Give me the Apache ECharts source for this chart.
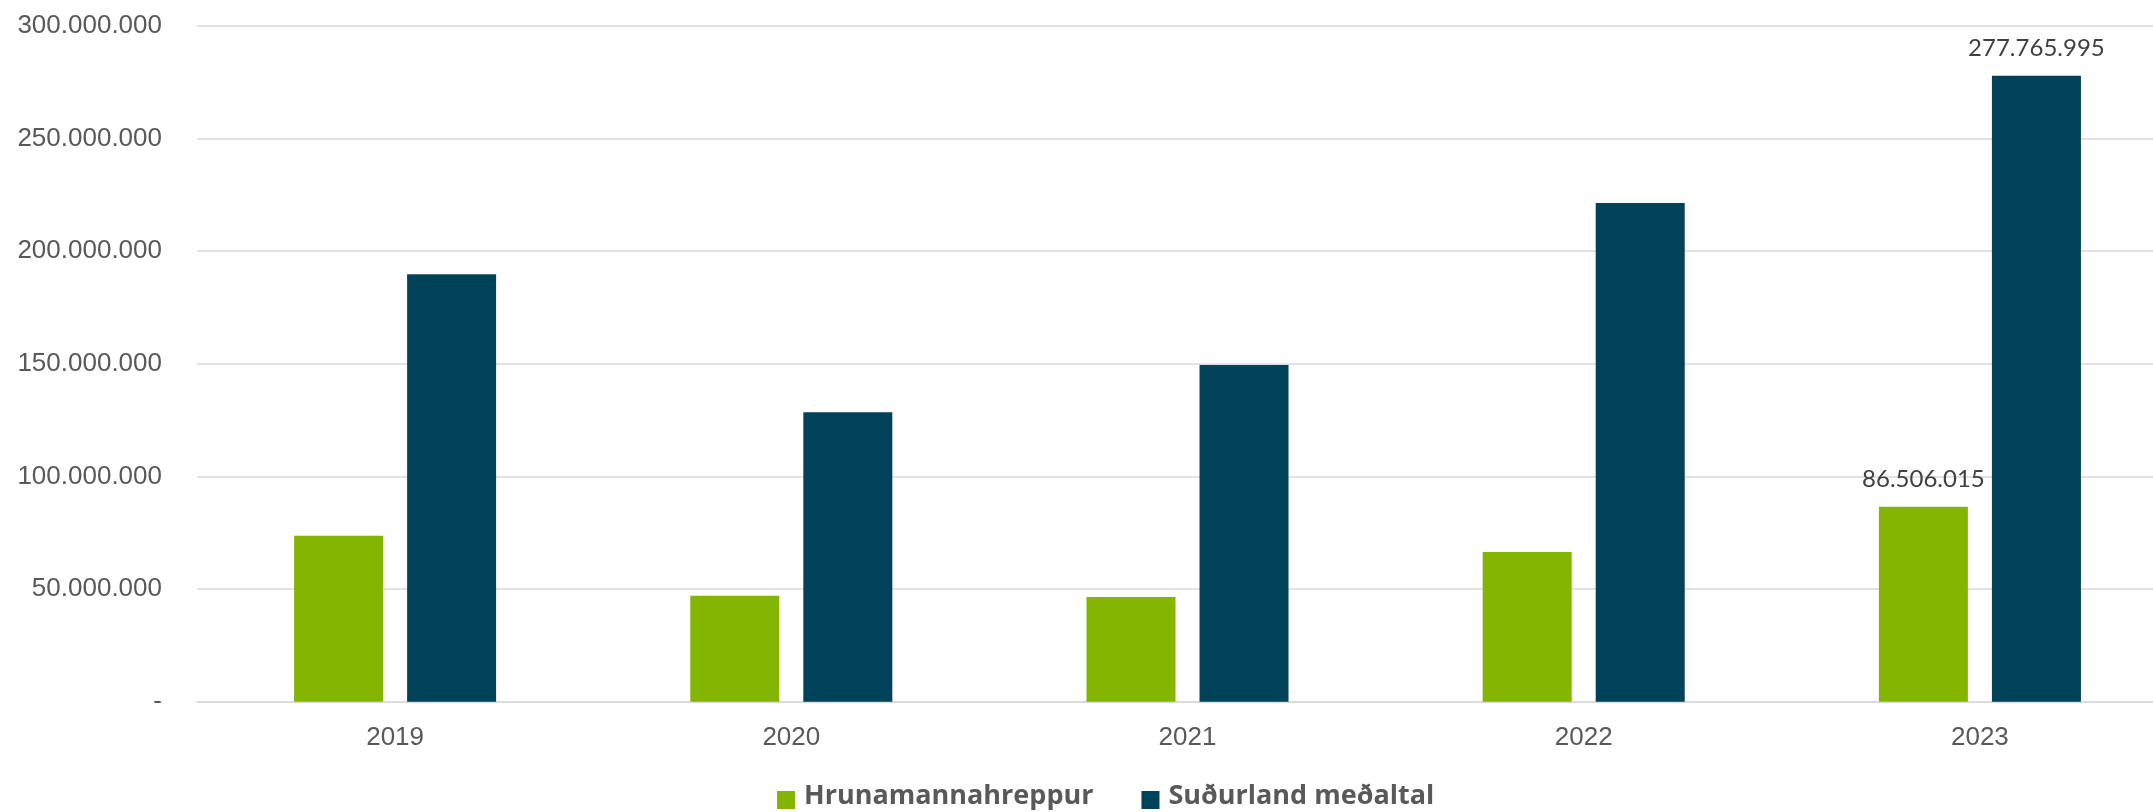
<!DOCTYPE html>
<html>
<head>
<meta charset="utf-8">
<script src="https://cdn.jsdelivr.net/npm/echarts@6/dist/echarts.min.js"></script>
<style>html,body{margin:0;padding:0;background:#fff;}#c{width:2153px;height:812px;}</style>
</head>
<body>
<div id="c"></div>
<script>
const categories = ['2019', '2020', '2021', '2022', '2023'];
const seriesNames = ['Hrunamannahreppur', 'Suðurland meðaltal'];
const hrunamannahreppur = [73700000, 47000000, 46500000, 66400000, 86506015];
const sudurland = [189700000, 128400000, 149400000, 221300000, 277765995];
const yTicks = [0, 50000000, 100000000, 150000000, 200000000, 250000000, 300000000];

function fmt(v) {
  if (v === 0) return '-';
  return String(Math.round(v)).replace(/\B(?=(\d{3})+(?!\d))/g, '.');
}
const lastIdx = categories.length - 1;

const chart = echarts.init(document.getElementById('c'), null, {renderer: 'canvas'});
const labelOpt = {
  show: true,
  position: 'top',
  distance: 16,
  fontFamily: 'Lato',
  fontSize: 24,
  color: '#404040',
  formatter: p => p.dataIndex === lastIdx ? fmt(p.value) : ''
};
// legend marker: an 18x18 square set 7px below the top of a 18x25 item box
const legendIcon = 'path://M0 0 L0.01 0 M0 7 L18 7 L18 25 L0 25 Z';
chart.setOption({
  animation: false,
  backgroundColor: '#ffffff',
  grid: {left: 197, width: 1981, top: 25.7, bottom: 110.3, containLabel: false, outerBoundsMode: 'none'},
  legend: {
    data: seriesNames,
    left: 777,
    top: 783,
    padding: 0,
    icon: legendIcon,
    itemWidth: 18,
    itemHeight: 25,
    itemGap: 48,
    textStyle: {fontFamily: 'Open Sans', fontWeight: 'bold', fontSize: 27, color: '#595959', padding: [0, 0, 0, 4]}
  },
  xAxis: {
    type: 'category',
    data: categories,
    axisLine: {show: true, lineStyle: {color: '#d9d9d9', width: 1.5}},
    axisTick: {show: false},
    axisLabel: {fontFamily: 'Liberation Sans', fontSize: 26, color: '#595959', margin: 23}
  },
  yAxis: {
    type: 'value',
    min: yTicks[0],
    max: yTicks[yTicks.length - 1],
    interval: yTicks[1] - yTicks[0],
    axisLine: {show: false},
    axisTick: {show: false},
    splitLine: {lineStyle: {color: '#d9d9d9', width: 1.5}},
    axisLabel: {fontFamily: 'Liberation Sans', fontSize: 26, color: '#595959', margin: 35, formatter: v => fmt(v)}
  },
  series: [
    {
      name: seriesNames[0],
      type: 'bar',
      data: hrunamannahreppur,
      barWidth: 89,
      barGap: '27%',
      itemStyle: {color: '#84b500'},
      label: labelOpt
    },
    {
      name: seriesNames[1],
      type: 'bar',
      data: sudurland,
      barWidth: 89,
      barGap: '27%',
      itemStyle: {color: '#004259'},
      label: labelOpt
    }
  ]
});
</script>
</body>
</html>
